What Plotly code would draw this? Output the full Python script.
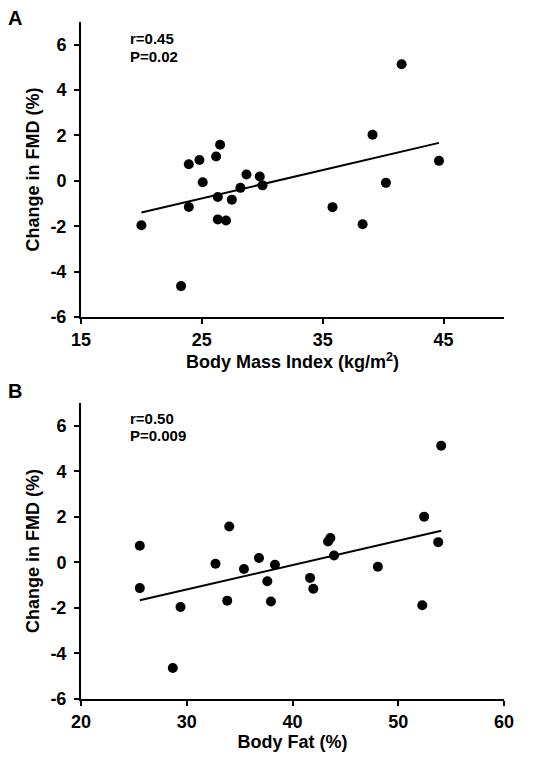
import numpy as np
import plotly.graph_objects as go

# Panel A data: Body Mass Index vs change in FMD
bmi = [41.53, 39.12, 44.62, 23.92, 24.80, 26.18, 26.51, 20.00, 23.28, 25.07, 23.92,
       26.32, 26.32, 27.00, 27.48, 28.19, 28.69, 29.79, 30.02, 35.81, 38.30, 40.23]
fmd_a = [5.14, 2.03, 0.88, 0.73, 0.92, 1.07, 1.59, -1.96, -4.64, -0.06, -1.15,
         -0.71, -1.70, -1.75, -0.83, -0.31, 0.28, 0.19, -0.20, -1.16, -1.91, -0.09]

# Panel B data: Body Fat vs change in FMD
body_fat = [54.06, 52.45, 53.78, 25.56, 34.02, 43.58, 43.36, 25.56, 28.68, 29.41, 32.72,
            33.83, 35.41, 36.83, 37.62, 37.96, 38.34, 41.66, 41.97, 43.93, 48.07, 52.27]
fmd_b = [5.12, 2.01, 0.89, 0.73, 1.58, 1.07, 0.92, -1.13, -4.64, -1.96, -0.06,
         -1.68, -0.29, 0.19, -0.83, -1.72, -0.10, -0.68, -1.16, 0.30, -0.19, -1.88]

y_ticks = [-6, -4, -2, 0, 2, 4, 6]
y_ticktext = ["-6", "-4", "-2", "0", "2", "4", "6"]
x_ticks_a = [15, 25, 35, 45]
x_ticks_b = [20, 30, 40, 50, 60]
stats_a = ["r=0.45", "P=0.02"]
stats_b = ["r=0.50", "P=0.009"]

FONT = "Liberation Sans, Arial, sans-serif"


def fit_line(x, y):
    x = np.asarray(x, float)
    y = np.asarray(y, float)
    m, b = np.polyfit(x, y, 1)
    xs = np.array([x.min(), x.max()])
    return xs, m * xs + b


fig = go.Figure()
for xdata, ydata, xa, ya in [(bmi, fmd_a, "x", "y"), (body_fat, fmd_b, "x2", "y2")]:
    lx, ly = fit_line(xdata, ydata)
    fig.add_trace(go.Scatter(x=lx, y=ly, mode="lines", line=dict(color="black", width=2),
                             xaxis=xa, yaxis=ya, showlegend=False, hoverinfo="skip"))
    fig.add_trace(go.Scatter(x=xdata, y=ydata, mode="markers",
                             marker=dict(color="black", size=10),
                             xaxis=xa, yaxis=ya, showlegend=False))

axis_common = dict(showline=True, linecolor="black", linewidth=2, ticks="outside",
                   ticklen=5, tickwidth=2, tickcolor="black", showgrid=False,
                   zeroline=False, automargin=False,
                   tickfont=dict(family=FONT, size=18, color="black", weight="bold"),
                   mirror=False)
title_font = dict(family=FONT, size=18, color="black", weight="bold")

# page body has an 8px margin, so the figure is offset by (8, 8)
fig.update_layout(
    width=524, height=748,
    margin=dict(l=73, r=28, t=14, b=57),
    paper_bgcolor="white", plot_bgcolor="white",
    xaxis=dict(domain=[0, 1], anchor="y", range=[15, 50], tickvals=x_ticks_a,
               title=dict(text="Body Mass Index (kg/m<sup>2</sup>)", font=title_font, standoff=4),
               **axis_common),
    yaxis=dict(domain=[0.5643, 1], anchor="x", range=[-6, 7], tickvals=y_ticks, ticktext=y_ticktext,
               ticklabelstandoff=4,
               title=dict(text="Change in FMD (%)", font=title_font, standoff=6),
               **axis_common),
    xaxis2=dict(domain=[0, 1], anchor="y2", range=[20, 60], tickvals=x_ticks_b,
                title=dict(text="Body Fat (%)", font=title_font, standoff=4),
                **axis_common),
    yaxis2=dict(domain=[0, 0.4372], anchor="x2", range=[-6, 7], tickvals=y_ticks, ticktext=y_ticktext,
                ticklabelstandoff=4,
                title=dict(text="Change in FMD (%)", font=title_font, standoff=6),
                **axis_common),
)

ann_font = dict(family=FONT, size=15, color="black", weight="bold")
for xref, yref, lines, ys in [("x domain", "y domain", stats_a, [0.943, 0.884]),
                              ("x2 domain", "y2 domain", stats_b, [0.946, 0.889])]:
    for txt, yy in zip(lines, ys):
        fig.add_annotation(x=0.111, y=yy, xref=xref, yref=yref, text=txt, showarrow=False,
                           xanchor="left", yanchor="middle", font=ann_font)

panel_font = dict(family=FONT, size=20, color="black", weight="bold")
fig.add_annotation(x=-0.156, y=1.0066, xref="paper", yref="paper", text="A", showarrow=False,
                   xanchor="center", yanchor="middle", font=panel_font)
fig.add_annotation(x=-0.156, y=0.455, xref="paper", yref="paper", text="B", showarrow=False,
                   xanchor="center", yanchor="middle", font=panel_font)

fig.write_html("out.html")
